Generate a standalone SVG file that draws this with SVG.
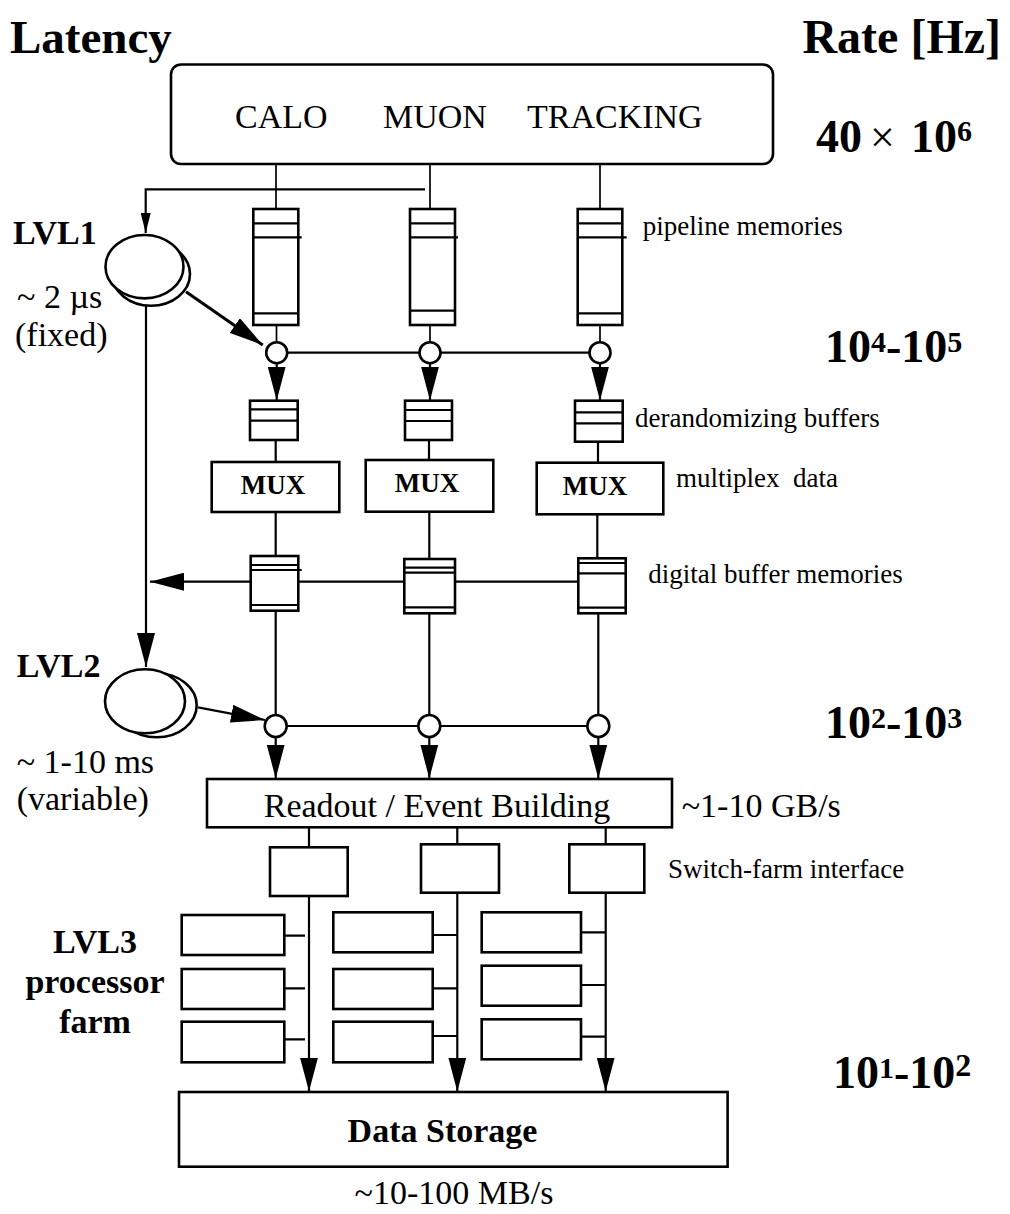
<svg xmlns="http://www.w3.org/2000/svg" width="1010" height="1214" viewBox="0 0 1010 1214">
<style>
.bx{fill:#fff;stroke:#000;stroke-width:2.6}
.ln{fill:none;stroke:#000;stroke-width:2.2}
.th{fill:none;stroke:#000;stroke-width:1.7}
.tk{fill:none;stroke:#000;stroke-width:3}
.t{font-family:"Liberation Serif","Times New Roman",serif;fill:#000}
.r34{font-size:34px}
.r27{font-size:27px}
.b34{font-size:34px;font-weight:bold}
.b27{font-size:27px;font-weight:bold}
.b46{font-size:46px;font-weight:bold}
</style>
<defs>
<marker id="ah" markerUnits="userSpaceOnUse" markerWidth="34" markerHeight="18" refX="34" refY="9" orient="auto" viewBox="0 0 34 18"><path d="M0,0 L34,9 L0,18 z" fill="#000"/></marker>
<marker id="as" markerUnits="userSpaceOnUse" markerWidth="20" markerHeight="10" refX="20" refY="5" orient="auto" viewBox="0 0 20 10"><path d="M0,0 L20,5 L0,10 z" fill="#000"/></marker>
</defs>
<rect width="1010" height="1214" fill="#fff"/>

<g id="connectors">
<path class="ln" d="M425,189.3 H145.7 V233" marker-end="url(#as)"/>
<path class="th" d="M276,164 V209 M430,164 V209 M600,164 V209"/>
<path class="th" d="M276.5,325 V342 M430,325 V342 M600,325 V342"/>
<path class="ln" d="M276.7,352.7 H600"/>
<path class="ln" d="M276.7,363 V400.5" marker-end="url(#ah)"/>
<path class="ln" d="M430,363 V400.5" marker-end="url(#ah)"/>
<path class="ln" d="M600,363 V400.5" marker-end="url(#ah)"/>
<path class="ln" d="M275.7,440 V462 M429,440 V460 M598,441.7 V462.7"/>
<path class="ln" d="M275.7,512 V556 M429.3,511.7 V559 M597.3,514.3 V558.3"/>
<path class="ln" d="M578,581.7 H150" marker-end="url(#ah)"/>
<path class="ln" d="M146,305 V667" marker-end="url(#ah)"/>
<path class="tk" d="M186,291.7 L262.7,345" marker-end="url(#ah)"/>
<path class="ln" d="M275.7,610.7 V715 M429.3,613.3 V715 M598.3,613.3 V715"/>
<path class="ln" d="M275.7,726 H598.3"/>
<path class="ln" d="M275.7,737 V778.5" marker-end="url(#ah)"/>
<path class="ln" d="M429.3,737 V778.5" marker-end="url(#ah)"/>
<path class="ln" d="M598.3,737 V778.5" marker-end="url(#ah)"/>
<path class="ln" d="M198,707.3 L265,720" marker-end="url(#ah)"/>
<path class="ln" d="M309,827 V847.3 M457.3,827 V844.3 M605.7,827 V844.3"/>
<path class="ln" d="M309,896 V1091.5" marker-end="url(#ah)"/>
<path class="ln" d="M457.3,892.7 V1091.5" marker-end="url(#ah)"/>
<path class="ln" d="M605.7,892.7 V1091.5" marker-end="url(#ah)"/>
<path class="ln" d="M284.3,935.7 H305 M284.3,988.3 H305 M280,1039.3 H305"/>
<path class="ln" d="M432.7,935 H457.3 M432.7,988.3 H457.3 M432.7,1036 H457.3"/>
<path class="ln" d="M581,932.3 H605.7 M581,985 H605.7 M578,1036.7 H605.7"/>
</g>

<g id="detectors">
<rect class="bx" x="171" y="64.5" width="602" height="99.5" rx="10"/>
<text class="t r34" x="235" y="128">CALO</text>
<text class="t r34" x="383" y="128">MUON</text>
<text class="t r34" x="527" y="128">TRACKING</text>
</g>

<g id="pipeline-calo">
<rect class="bx" x="253.3" y="209" width="45" height="116"/>
<path class="ln" d="M253.3,223.3 H298.3 M252,237.3 H301.7 M253.3,313.3 H298.3"/>
</g>
<g id="pipeline-muon">
<rect class="bx" x="410" y="209" width="45" height="116"/>
<path class="ln" d="M410,223.3 H455 M410,237.3 H458 M410,310.7 H455"/>
</g>
<g id="pipeline-tracking">
<rect class="bx" x="577.7" y="209" width="44.6" height="116"/>
<path class="ln" d="M577.7,223.3 H622.3 M577.7,237.3 H626.7 M577.7,313.3 H622.3"/>
</g>

<g id="l1-switches">
<circle class="bx" cx="276.7" cy="352.7" r="10.5"/>
<circle class="bx" cx="430" cy="352.7" r="10.5"/>
<circle class="bx" cx="600" cy="352.7" r="10.5"/>
</g>

<g id="derand-calo">
<rect class="bx" x="250" y="400.7" width="47.7" height="39.3"/>
<path class="ln" d="M250,409.3 H297.7 M250,420.7 H297.7"/>
</g>
<g id="derand-muon">
<rect class="bx" x="405" y="400.7" width="47" height="39.3"/>
<path class="ln" d="M405,410 H452 M405,421 H452"/>
</g>
<g id="derand-tracking">
<rect class="bx" x="575" y="400.7" width="47.7" height="41"/>
<path class="ln" d="M575,412.3 H622.7 M575,423.3 H622.7"/>
</g>

<g id="mux-calo">
<rect class="bx" x="211.7" y="462" width="127.6" height="50"/>
<text class="t b27" x="273" y="494" text-anchor="middle">MUX</text>
</g>
<g id="mux-muon">
<rect class="bx" x="365.7" y="460" width="127.6" height="51.7"/>
<text class="t b27" x="427" y="492" text-anchor="middle">MUX</text>
</g>
<g id="mux-tracking">
<rect class="bx" x="536.7" y="462.7" width="126.6" height="51.6"/>
<text class="t b27" x="595" y="495" text-anchor="middle">MUX</text>
</g>

<g id="dbuf-calo">
<rect class="bx" x="250.7" y="556" width="47.6" height="54.7"/>
<path class="ln" d="M250.7,565 H298.3 M250.7,570 H301.7 M250.7,605 H298.3"/>
</g>
<g id="dbuf-muon">
<rect class="bx" x="404.3" y="559" width="50.7" height="54.3"/>
<path class="ln" d="M404.3,567.7 H455 M404.3,572.7 H455 M404.3,607.3 H455"/>
</g>
<g id="dbuf-tracking">
<rect class="bx" x="578.3" y="558.3" width="47.4" height="55"/>
<path class="ln" d="M578.3,563 H625.7 M578.3,573.3 H626.7 M578.3,607.7 H625.7"/>
</g>

<g id="lvl1">
<ellipse class="bx" cx="151" cy="274" rx="39" ry="31.7"/>
<ellipse class="bx" cx="144.5" cy="266.7" rx="39" ry="31.7"/>
</g>
<g id="lvl2">
<ellipse class="bx" cx="156.7" cy="705.3" rx="40" ry="32"/>
<ellipse class="bx" cx="145" cy="701.3" rx="40" ry="32"/>
</g>

<g id="l2-switches">
<circle class="bx" cx="275.7" cy="726" r="11"/>
<circle class="bx" cx="429.3" cy="726" r="11"/>
<circle class="bx" cx="598.3" cy="726" r="11"/>
</g>

<g id="readout">
<rect class="bx" x="207" y="779" width="465" height="48.3"/>
<text class="t r34" x="437" y="816.7" text-anchor="middle">Readout / Event Building</text>
</g>

<g id="sfi-1"><rect class="bx" x="270" y="847.3" width="77.7" height="48.7"/></g>
<g id="sfi-2"><rect class="bx" x="421" y="844.3" width="78" height="48.4"/></g>
<g id="sfi-3"><rect class="bx" x="569.3" y="844.3" width="75" height="48.4"/></g>

<g id="farm-1">
<rect class="bx" x="181.7" y="915" width="102.6" height="40"/>
<rect class="bx" x="181.7" y="969" width="102.6" height="40"/>
<rect class="bx" x="181.7" y="1021.7" width="102.6" height="40.6"/>
</g>
<g id="farm-2">
<rect class="bx" x="333.3" y="912.3" width="99.4" height="40"/>
<rect class="bx" x="333.3" y="969" width="99.4" height="40"/>
<rect class="bx" x="333.3" y="1021.7" width="99.4" height="40.6"/>
</g>
<g id="farm-3">
<rect class="bx" x="481.7" y="912.3" width="99.3" height="40"/>
<rect class="bx" x="481.7" y="965.7" width="99.3" height="40"/>
<rect class="bx" x="481.7" y="1019.3" width="99.3" height="40"/>
</g>

<g id="storage">
<rect class="bx" x="179" y="1092" width="548.6" height="74.7"/>
<text class="t b34" x="442.5" y="1141.7" text-anchor="middle">Data Storage</text>
</g>

<g id="labels">
<text class="t" x="10" y="53" font-size="47" font-weight="bold">Latency</text>
<text class="t" x="1001" y="53" font-size="48" font-weight="bold" text-anchor="end">Rate [Hz]</text>
<text class="t b46" x="816" y="152">40</text>
<text class="t" x="870" y="152" font-size="44">×</text>
<text class="t b46" x="911" y="152">10<tspan font-size="30" dy="-11">6</tspan></text>
<text class="t b46" x="825" y="361.7">10<tspan font-size="30" dy="-10">4</tspan><tspan dy="10">-10</tspan><tspan font-size="30" dy="-10">5</tspan></text>
<text class="t b46" x="825" y="738.3">10<tspan font-size="30" dy="-10">2</tspan><tspan dy="10">-10</tspan><tspan font-size="30" dy="-10">3</tspan></text>
<text class="t b46" x="833" y="1088.3">10<tspan font-size="30" dy="-10">1</tspan><tspan dy="10">-10</tspan><tspan font-size="32" dy="-12">2</tspan></text>
<text class="t b34" x="13" y="244">LVL1</text>
<text class="t r34" x="17" y="308">~ 2 µs</text>
<text class="t r34" x="15" y="346">(fixed)</text>
<text class="t b34" x="16.7" y="676.7">LVL2</text>
<text class="t r34" x="16.7" y="773.3">~ 1-10 ms</text>
<text class="t r34" x="16.7" y="810">(variable)</text>
<text class="t b34" x="95" y="953.3" text-anchor="middle">LVL3</text>
<text class="t b34" x="95" y="993.3" text-anchor="middle">processor</text>
<text class="t b34" x="95" y="1033.3" text-anchor="middle">farm</text>
<text class="t r27" x="642.7" y="235">pipeline memories</text>
<text class="t r27" x="635" y="426.7">derandomizing buffers</text>
<text class="t r27" x="676" y="486.7" xml:space="preserve">multiplex  data</text>
<text class="t r27" x="648.3" y="583.3">digital buffer memories</text>
<text class="t r34" x="681.7" y="816.7">~1-10 GB/s</text>
<text class="t r27" x="668" y="878">Switch-farm interface</text>
<text class="t r34" x="454" y="1204" text-anchor="middle">~10-100 MB/s</text>
</g>
</svg>
